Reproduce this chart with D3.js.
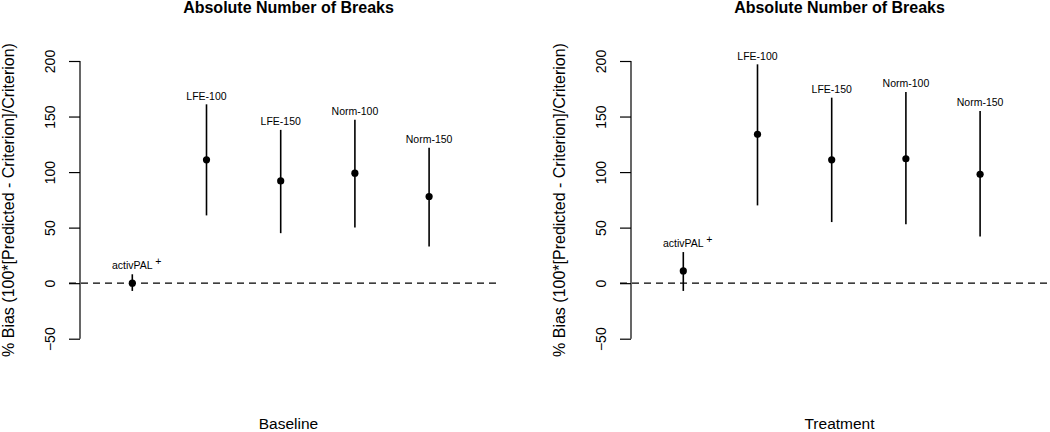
<!DOCTYPE html>
<html>
<head>
<meta charset="utf-8">
<script src="https://cdn.jsdelivr.net/npm/d3@7/dist/d3.min.js"></script>
<style>
  html, body { margin: 0; padding: 0; background: #fff; }
  svg { display: block; }
  text { font-family: "Liberation Sans", Arial, Helvetica, sans-serif; fill: #000; }
</style>
</head>
<body>
<svg id="chart" width="1050" height="432"></svg>
<script>
// ---- data ----
const categories = ["activPAL", "LFE-100", "LFE-150", "Norm-100", "Norm-150"];
const panelNames = ["Baseline", "Treatment"];
const chartTitle = "Absolute Number of Breaks";
const yTitle = "% Bias (100*[Predicted - Criterion]/Criterion)";
const yTicks = [-50, 0, 50, 100, 150, 200];

const baselineMean  = [0, 111, 92, 99, 78];
const baselineLower = [-7, 61, 45, 50, 33];
const baselineUpper = [8, 161, 138, 147, 122];

const treatmentMean  = [11, 134, 111, 112, 98];
const treatmentLower = [-7, 70, 55, 53, 42];
const treatmentUpper = [28, 197, 167, 172, 155];

const panelData = [
  { name: panelNames[0], mean: baselineMean, lower: baselineLower, upper: baselineUpper },
  { name: panelNames[1], mean: treatmentMean, lower: treatmentLower, upper: treatmentUpper }
];

// ---- layout ----
const svg = d3.select("#chart");
const axisXs = [80, 631];
const yTitleX = [14, 565];
const plotW = 417;

const y = d3.scaleLinear().domain([-50, 200]).range([338.7, 61]);

panelData.forEach((p, pi) => {
  const ax = axisXs[pi];
  const g = svg.append("g");
  const x = d3.scalePoint().domain(categories).range([ax + 52.3, ax + 52.3 + 4 * 74.2]);

  // dashed zero line
  g.append("line")
    .attr("x1", ax - 11).attr("x2", ax + plotW + 1)
    .attr("y1", y(0)).attr("y2", y(0))
    .attr("stroke", "#000").attr("stroke-width", 1.2)
    .attr("stroke-dasharray", "7,5");

  // y axis
  const yAxis = d3.axisLeft(y).tickValues(yTicks).tickSize(11).tickFormat(d3.format("d"));
  const axG = g.append("g").attr("transform", `translate(${ax},0)`).call(yAxis);
  axG.select(".domain").attr("d", `M0,${y(-50)}V${y(200)}`).attr("stroke", "#000").attr("stroke-width", 1.2);
  axG.selectAll(".tick line").attr("stroke", "#000").attr("stroke-width", 1.2);
  axG.selectAll(".tick text")
    .attr("x", null).attr("dy", null)
    .attr("transform", "translate(-25,0) rotate(-90)")
    .attr("text-anchor", "middle")
    .style("font-size", "14px")
    .style("font-family", '"Liberation Sans", Arial, sans-serif');

  // y title
  g.append("text")
    .attr("transform", `translate(${yTitleX[pi]},200) rotate(-90)`)
    .attr("text-anchor", "middle")
    .style("font-size", "16px")
    .text(yTitle);

  // chart title
  g.append("text")
    .attr("x", ax + plotW / 2).attr("y", 12.5)
    .attr("text-anchor", "middle")
    .style("font-size", "16px").style("font-weight", "bold")
    .text(chartTitle);

  // x label
  g.append("text")
    .attr("x", ax + plotW / 2).attr("y", 429)
    .attr("text-anchor", "middle")
    .style("font-size", "15.5px")
    .text(p.name);

  // CI lines
  categories.forEach((c, i) => {
    g.append("line")
      .attr("x1", x(c)).attr("x2", x(c))
      .attr("y1", y(p.lower[i])).attr("y2", y(p.upper[i]))
      .attr("stroke", "#000").attr("stroke-width", 1.6);
    g.append("circle")
      .attr("cx", x(c)).attr("cy", y(p.mean[i])).attr("r", 3.6)
      .attr("fill", "#000");
    const t = g.append("text")
      .attr("x", x(c)).attr("y", y(p.upper[i]) - 4.8)
      .attr("text-anchor", "middle")
      .style("font-size", "10.5px")
      .text(c);
    if (i === 0) {
      const w = t.node().getComputedTextLength();
      g.append("text")
        .attr("x", x(c) + w / 2 + 2.5).attr("y", y(p.upper[i]) - 9)
        .attr("text-anchor", "start")
        .style("font-size", "10.5px")
        .text("+");
    }
  });
});
</script>
</body>
</html>
